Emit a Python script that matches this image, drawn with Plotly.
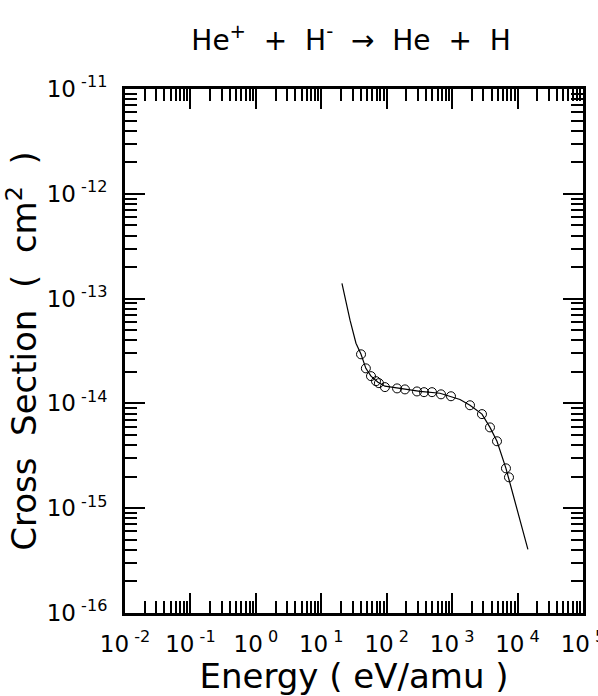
import plotly.graph_objects as go

# Measured data points (circles)
energy_pts = [40.5, 48, 57.5, 68.6, 76, 94, 144, 190, 290, 372, 492, 676, 960,
              1875, 2860, 3790, 4850, 6650, 7400]
sigma_pts = [2.94e-14, 2.16e-14, 1.82e-14, 1.63e-14, 1.56e-14, 1.43e-14, 1.39e-14,
             1.36e-14, 1.30e-14, 1.28e-14, 1.28e-14, 1.22e-14, 1.17e-14,
             9.6e-15, 7.9e-15, 5.9e-15, 4.35e-15, 2.4e-15, 1.97e-15]

# Fitted curve
energy_fit = [20.7, 27.5, 33.9, 40.5, 48, 57.5, 73.6, 94, 160, 323, 652, 960,
              1318, 1875, 2860, 3790, 4850, 6650, 14400]
sigma_fit = [1.40e-13, 6.22e-14, 3.75e-14, 2.94e-14, 2.16e-14, 1.82e-14, 1.59e-14,
             1.46e-14, 1.39e-14, 1.30e-14, 1.25e-14, 1.17e-14, 1.09e-14, 9.6e-15,
             7.9e-15, 5.9e-15, 4.35e-15, 2.4e-15, 4.04e-16]

x_tickvals = [1e-2, 1e-1, 1e0, 1e1, 1e2, 1e3, 1e4, 1e5]
x_ticktext = ["10<sup> -2</sup>", "10<sup> -1</sup>", "10<sup> 0</sup>", "10<sup> 1</sup>",
              "10<sup> 2</sup>", "10<sup> 3</sup>", "10<sup> 4</sup>", "10<sup> 5</sup>"]
y_tickvals = [1e-16, 1e-15, 1e-14, 1e-13, 1e-12, 1e-11]
y_ticktext = ["10<sup> -16</sup>", "10<sup> -15</sup>", "10<sup> -14</sup>",
              "10<sup> -13</sup>", "10<sup> -12</sup>", "10<sup> -11</sup>"]

FONT = "DejaVu Sans"

fig = go.Figure()
fig.add_trace(go.Scatter(x=energy_fit, y=sigma_fit, mode="lines",
                         line=dict(color="black", width=1.2), showlegend=False))
fig.add_trace(go.Scatter(x=energy_pts, y=sigma_pts, mode="markers",
                         marker=dict(symbol="circle-open", size=9, color="black",
                                     line=dict(width=1)), showlegend=False))

axis_common = dict(
    type="log", showgrid=False, zeroline=False, automargin=False,
    showline=True, linecolor="black", linewidth=3, mirror="allticks",
    ticks="inside", ticklen=20, tickwidth=1.5, tickcolor="black",
    tickfont=dict(family=FONT, size=23, color="black"),
    ticklabeloverflow="allow",
    minor=dict(ticks="inside", ticklen=12, tickwidth=1.5, tickcolor="black", dtick="D1"),
)

fig.update_xaxes(range=[-2.0005, 5.0005], tickvals=x_tickvals, ticktext=x_ticktext,
                 ticklabelstandoff=8,
                 title=dict(text="Energy ( eV/amu )", font=dict(family=FONT, size=34, color="black"),
                            standoff=12),
                 **axis_common)
fig.update_yaxes(range=[-16.0005, -10.9995], tickvals=y_tickvals, ticktext=y_ticktext,
                 ticklabelstandoff=10,
                 title=dict(text="Cross  Section  (  cm<sup>2</sup>  )",
                            font=dict(family=FONT, size=34, color="black"), standoff=12),
                 **axis_common)

fig.update_layout(
    width=598, height=696,
    margin=dict(l=125, r=15, t=89, b=83),
    paper_bgcolor="white", plot_bgcolor="white",
    title=dict(text="He<sup>+</sup>  +  H<sup>-</sup>  →  He  +  H",
               font=dict(family=FONT, size=28, color="black"),
               x=0.587, xanchor="center", y=0.942, yanchor="middle"),
)

fig.write_html("out.html", post_script="document.body.style.margin='0';",
               config={"displayModeBar": False})
